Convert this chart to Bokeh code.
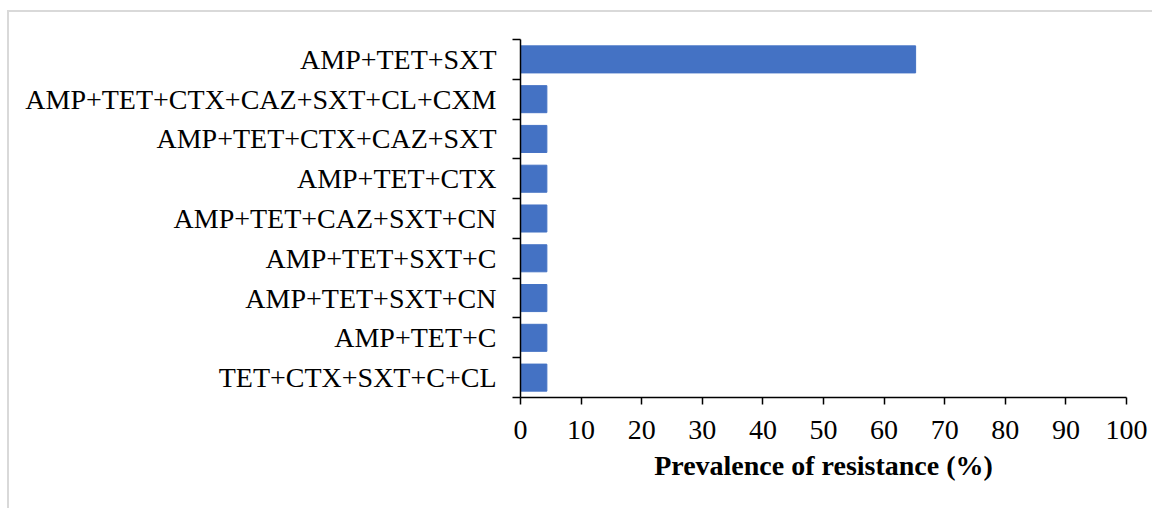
from bokeh.plotting import figure
from bokeh.models import Range1d, FixedTicker
from bokeh.embed import file_html
from bokeh.resources import INLINE

# Resistance patterns, listed top to bottom
patterns = [
    "AMP+TET+SXT",
    "AMP+TET+CTX+CAZ+SXT+CL+CXM",
    "AMP+TET+CTX+CAZ+SXT",
    "AMP+TET+CTX",
    "AMP+TET+CAZ+SXT+CN",
    "AMP+TET+SXT+C",
    "AMP+TET+SXT+CN",
    "AMP+TET+C",
    "TET+CTX+SXT+C+CL",
]
prevalence = [65.2, 4.35, 4.35, 4.35, 4.35, 4.35, 4.35, 4.35, 4.35]
x_ticks = [0, 10, 20, 30, 40, 50, 60, 70, 80, 90, 100]

n = len(patterns)
ypos = [n - 1 - i for i in range(n)]

FONT = "Liberation Serif"
SIZE = "28px"

p = figure(
    width=1145, height=498,
    x_range=Range1d(0, 100), y_range=Range1d(-0.5, n - 0.5),
    output_backend="svg", toolbar_location=None,
    min_border_left=511, min_border_right=28,
    min_border_top=27, min_border_bottom=113,
)
p.styles = {
    "margin-left": "7px", "margin-top": "10px",
    "border-left": "2px solid #d9d9d9", "border-top": "2px solid #d9d9d9",
}
p.outline_line_color = None
p.xgrid.grid_line_color = None
p.ygrid.grid_line_color = None
p.background_fill_color = "white"
p.border_fill_color = "white"

p.hbar(y=ypos, right=prevalence, left=0, height=0.68,
       fill_color="#4472C4", line_color="#4472C4")

# y axis: labels at band centres, tick marks at band boundaries
yax = p.yaxis[0]
yax.ticker = FixedTicker(ticks=ypos, minor_ticks=[k - 0.5 for k in range(n + 1)])
yax.major_label_overrides = {y: lab for y, lab in zip(ypos, patterns)}
yax.major_tick_line_color = None
yax.minor_tick_in = 0
yax.minor_tick_out = 8
yax.minor_tick_line_color = "black"
yax.minor_tick_line_width = 1.5
yax.axis_line_color = "black"
yax.axis_line_width = 1.5
yax.major_label_standoff = 16
yax.major_label_text_font = FONT
yax.major_label_text_font_size = SIZE
yax.major_label_text_color = "black"

xax = p.xaxis[0]
xax.ticker = FixedTicker(ticks=x_ticks)
xax.minor_tick_line_color = None
xax.major_tick_in = 0
xax.major_tick_out = 7
xax.major_tick_line_color = "black"
xax.major_tick_line_width = 1.5
xax.axis_line_color = "black"
xax.axis_line_width = 1.5
xax.major_label_standoff = 16
xax.major_label_text_font = FONT
xax.major_label_text_font_size = SIZE
xax.major_label_text_color = "black"
xax.axis_label = "Prevalence of resistance (%)"
xax.axis_label_text_font = FONT
xax.axis_label_text_font_style = "bold"
xax.axis_label_text_font_size = SIZE
xax.axis_label_text_color = "black"
xax.axis_label_standoff = 8

open("out.html", "w").write(file_html(p, INLINE))
